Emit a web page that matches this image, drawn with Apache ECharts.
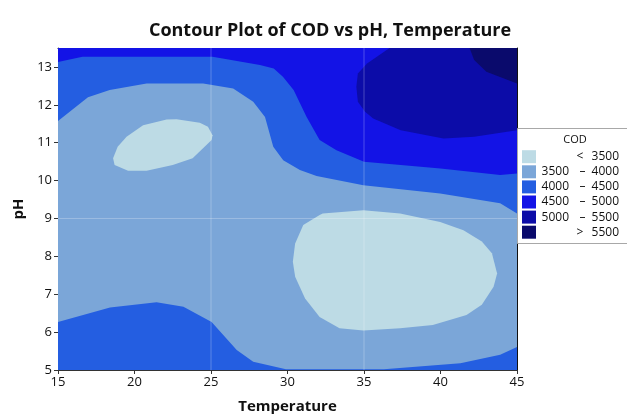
<!DOCTYPE html>
<html>
<head>
<meta charset="utf-8">
<script src="https://cdn.jsdelivr.net/npm/echarts@6/dist/echarts.min.js"></script>
<style>html,body{margin:0;padding:0;background:#fff}#c{width:627px;height:416px}</style>
</head>
<body>
<div id="c"></div>
<script>
// ---- data (Temperature, pH) ----
const xTicks = [15, 20, 25, 30, 35, 40, 45];
const yTicks = [5, 6, 7, 8, 9, 10, 11, 12, 13];
const legendLow  = ['', '3500', '4000', '4500', '5000', ''];
const legendOp   = ['<', '–', '–', '–', '–', '>'];
const legendHigh = ['3500', '4000', '4500', '5000', '5500', '5500'];
const levelColors = ['#bddbe5', '#7ba6d8', '#245ee1', '#1313e6', '#0c0ca8', '#0a0a6c'];

// contour lines (boundaries between levels)
const contour4000Top = [[15,11.57],[16.96,12.2],[18.38,12.39],[20.79,12.56],[24.49,12.56],[26.45,12.43],[27.76,12.08],[28.53,11.68],[29.07,10.89],[29.72,10.54],[30.81,10.28],[31.9,10.12],[34.96,9.88],[39.98,9.66],[43.9,9.4],[45,9.13]];
const contour4000Bottom = [[15,6.27],[18.4,6.65],[21.44,6.79],[23.2,6.67],[25.04,6.27],[26.68,5.53],[27.76,5.22],[29.9,5.02],[36.3,5.02],[41.3,5.18],[43.9,5.4],[45,5.61]];
const contour4500 = [[15,13.13],[16.6,13.27],[25.1,13.27],[28.2,13.05],[29.1,12.96],[29.7,12.74],[30.4,12.39],[31.25,11.68],[32.1,11.07],[33.2,10.8],[35,10.5],[40,10.32],[43.9,10.15],[45,10.19]];
const contour5000 = [[36.67,13.5],[35.2,13.09],[34.6,12.83],[34.5,12.48],[34.6,12.08],[35.07,11.82],[35.6,11.64],[37.4,11.33],[40.2,11.11],[42.2,11.16],[45,11.33]];
const contour5500 = [[41.9,13.5],[42.2,13.18],[43,12.87],[45,12.56]];
const lowBlob1 = [[18.6,10.59],[18.7,10.41],[19.58,10.26],[20.79,10.26],[22.5,10.41],[23.8,10.59],[25.04,11.07],[25.1,11.2],[24.8,11.42],[24.27,11.53],[22.75,11.62],[22.1,11.61],[20.56,11.46],[19.48,11.16],[18.9,10.89]];
const lowBlob2 = [[32.1,9.09],[32.3,9.13],[34.96,9.22],[37.36,9.13],[39.98,8.91],[41.5,8.69],[42.7,8.39],[43.36,8.08],[43.7,7.55],[43.47,7.2],[42.7,6.72],[41.7,6.45],[39.5,6.19],[37.36,6.1],[34.96,6.04],[33.4,6.1],[32.1,6.4],[31.15,6.89],[30.5,7.46],[30.35,7.86],[30.5,8.34],[31.03,8.83]];
const refX = [25, 35];
const refY = [9];

const xMin = 15, xMax = 45, yMin = 5, yMax = 13.5;

function region(points, color, extra) {
  const pts = points.concat(extra || []);
  return {
    type: 'custom', coordinateSystem: 'cartesian2d', clip: true, silent: true,
    data: pts, encode: { x: 0, y: 1 },
    renderItem: function (params, api) {
      if (params.dataIndex !== 0) return;
      return { type: 'polygon', shape: { points: pts.map(p => api.coord(p)) }, style: { fill: color } };
    }
  };
}

const FONT = 'Open Sans';
const chart = echarts.init(document.getElementById('c'), null, { renderer: 'canvas' });

const series = [
  region([[xMin, yMin], [xMax, yMin], [xMax, yMax], [xMin, yMax]], levelColors[1]),
  region(contour4000Top, levelColors[2], [[xMax, yMax], [xMin, yMax]]),
  region(contour4000Bottom, levelColors[2], [[xMax, yMin], [xMin, yMin]]),
  region(contour4500, levelColors[3], [[xMax, yMax], [xMin, yMax]]),
  region(contour5000, levelColors[4], [[xMax, yMax]]),
  region(contour5500, levelColors[5], [[xMax, yMax]]),
  region(lowBlob1, levelColors[0]),
  region(lowBlob2, levelColors[0]),
  {
    type: 'custom', coordinateSystem: 'cartesian2d', clip: true, silent: true,
    data: refX.map(v => [v, yMin]).concat(refY.map(v => [xMin, v])), encode: { x: 0, y: 1 },
    renderItem: function (params, api) {
      const i = params.dataIndex;
      let a, b;
      if (i < refX.length) { a = api.coord([refX[i], yMin]); b = api.coord([refX[i], yMax]); }
      else { const v = refY[i - refX.length]; a = api.coord([xMin, v]); b = api.coord([xMax, v]); }
      return { type: 'line', shape: { x1: a[0], y1: a[1], x2: b[0], y2: b[1] }, style: { stroke: 'rgba(255,255,255,0.25)', lineWidth: 1 } };
    }
  }
];

// legend graphics
const graphics = [
  { type: 'rect', shape: { x: 517.5, y: 128.5, width: 130, height: 115 }, style: { fill: '#fff', stroke: '#a8a8a8', lineWidth: 1 }, z: 10 },
  { type: 'text', x: 575, y: 140, style: { text: 'COD', font: '11px "' + FONT + '"', fill: '#111', align: 'center', verticalAlign: 'middle' }, z: 11 }
];
for (let i = 0; i < legendHigh.length; i++) {
  const cy = 156.7 + i * 15.1;
  graphics.push({ type: 'rect', shape: { x: 522, y: cy - 6.5, width: 14, height: 13 }, style: { fill: levelColors[i] }, z: 11 });
  if (legendLow[i]) graphics.push({ type: 'text', x: 569, y: cy, style: { text: legendLow[i], font: '12px "' + FONT + '"', fill: '#111', align: 'right', verticalAlign: 'middle' }, z: 11 });
  graphics.push({ type: 'text', x: legendLow[i] ? 582.5 : 580, y: cy, style: { text: legendOp[i], font: '12px "' + FONT + '"', fill: '#111', align: 'center', verticalAlign: 'middle' }, z: 11 });
  graphics.push({ type: 'text', x: 619, y: cy, style: { text: legendHigh[i], font: '12px "' + FONT + '"', fill: '#111', align: 'right', verticalAlign: 'middle' }, z: 11 });
}

chart.setOption({
  animation: false,
  backgroundColor: '#fff',
  title: {
    text: 'Contour Plot of COD vs pH, Temperature', left: 325, top: 17, textAlign: 'center',
    textStyle: { fontFamily: FONT, fontSize: 18, fontWeight: 'bold', color: '#111' }
  },
  grid: { left: 58, right: 110, top: 48, bottom: 46, containLabel: false, outerBoundsMode: 'none' },
  xAxis: [
    {
      type: 'value', min: xMin, max: xMax, interval: 5, position: 'bottom',
      name: 'Temperature', nameLocation: 'middle', nameGap: 29,
      nameTextStyle: { fontFamily: FONT, fontSize: 15, fontWeight: 'bold', color: '#111' },
      axisLine: { show: true, lineStyle: { color: '#333', width: 1 } },
      axisTick: { show: true, length: 4, lineStyle: { color: '#333' } },
      axisLabel: { fontFamily: FONT, fontSize: 13, color: '#111', margin: 6, formatter: v => xTicks.includes(v) ? String(v) : '' },
      splitLine: { show: false }
    },
    {
      type: 'value', min: xMin, max: xMax, position: 'top',
      axisLine: { show: true, lineStyle: { color: '#111', width: 1 } },
      axisTick: { show: false }, axisLabel: { show: false }, splitLine: { show: false }
    }
  ],
  yAxis: [
    {
      type: 'value', min: yMin, max: yMax, interval: 1, position: 'left',
      name: 'pH', nameLocation: 'middle', nameGap: 31, nameRotate: 90,
      nameTextStyle: { fontFamily: FONT, fontSize: 15, fontWeight: 'bold', color: '#111' },
      axisLine: { show: true, lineStyle: { color: '#555', width: 1 } },
      axisTick: { show: true, length: 4, lineStyle: { color: '#333' } },
      axisLabel: { fontFamily: FONT, fontSize: 13, color: '#111', margin: 6, showMaxLabel: false, formatter: v => yTicks.includes(v) ? String(v) : '' },
      splitLine: { show: false }
    },
    {
      type: 'value', min: yMin, max: yMax, position: 'right',
      axisLine: { show: true, lineStyle: { color: '#111', width: 1 } },
      axisTick: { show: false }, axisLabel: { show: false }, splitLine: { show: false }
    }
  ],
  series: series,
  graphic: graphics
});
</script>
</body>
</html>
